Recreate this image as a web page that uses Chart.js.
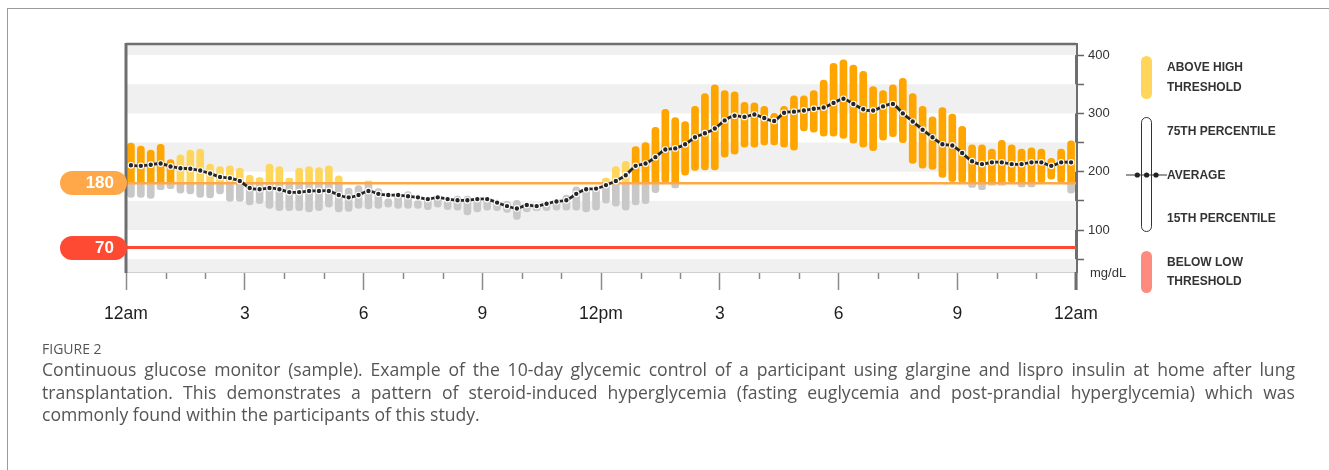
<!DOCTYPE html>
<html>
<head>
<meta charset="utf-8">
<script src="https://cdn.jsdelivr.net/npm/chart.js@4.4.1/dist/chart.umd.min.js"></script>
<style>
  html, body { margin:0; padding:0; background:#fff; }
  body { width:1329px; height:470px; overflow:hidden; position:relative; font-family:"Liberation Sans", Arial, sans-serif; }
  #frame { position:absolute; left:7px; top:8px; width:1340px; height:480px; border-left:1px solid #9a9a9a; border-top:1px solid #9a9a9a; }
  #wrap { position:absolute; left:0; top:0; width:1329px; height:330px; }
  canvas { display:block; }
  .pill { position:absolute; left:60px; width:67px; height:24px; border-radius:12px; color:#fff; font-weight:bold; font-size:17px; line-height:24px; text-align:right; box-sizing:border-box; padding-right:13px; }
  .lg { position:absolute; left:1167px; font-weight:bold; font-size:12px; color:#333; line-height:14px; white-space:nowrap; }
  .sw { position:absolute; left:1141px; width:11px; border-radius:6px; box-sizing:border-box; }
  #unit { position:absolute; left:1090px; top:265px; font-size:13px; color:#333; line-height:16px; }
  #figlab { position:absolute; left:42px; top:340px; font-family:"Open Sans", sans-serif; font-size:14px; color:#555; line-height:18px; }
  #cap { position:absolute; left:42px; top:358px; width:1253px; font-family:"Open Sans", sans-serif; font-size:17.6px; color:#555; line-height:22.5px; }
  #cap span { display:block; white-space:nowrap; text-align:justify; text-align-last:justify; }
  #cap span.last { text-align-last:left; }
</style>
</head>
<body>
<div id="frame"></div>
<div id="wrap"><canvas id="c" width="1329" height="330" style="width:1329px;height:330px"></canvas></div>
<div class="pill" id="pillHigh" style="background:#FFA84A">180</div>
<div class="pill" id="pillLow" style="background:#FF4A33">70</div>
<div id="unit">mg/dL</div>

<div class="sw" style="top:56px;height:43px;background:#FFD55C"></div>
<div class="lg" style="top:60px">ABOVE HIGH</div>
<div class="lg" style="top:80px">THRESHOLD</div>
<div class="sw" style="top:117px;height:115px;border:1.6px solid #333;background:#fff"></div>
<svg style="position:absolute;left:1124px;top:168px" width="44" height="14">
  <line x1="2" y1="7" x2="43" y2="7" stroke="#333" stroke-width="1.2"/>
  <circle cx="13.3" cy="7" r="2.6" fill="#222"/>
  <circle cx="22.6" cy="7" r="2.6" fill="#222"/>
  <circle cx="32" cy="7" r="2.6" fill="#222"/>
</svg>
<div class="lg" style="top:124px">75TH PERCENTILE</div>
<div class="lg" style="top:168px">AVERAGE</div>
<div class="lg" style="top:211px">15TH PERCENTILE</div>
<div class="sw" style="top:251px;height:42px;background:#FF8A80"></div>
<div class="lg" style="top:255px">BELOW LOW</div>
<div class="lg" style="top:274px">THRESHOLD</div>

<div id="figlab">FIGURE 2</div>
<div id="cap">
<span>Continuous glucose monitor (sample). Example of the 10-day glycemic control of a participant using glargine and lispro insulin at home after lung</span>
<span>transplantation. This demonstrates a pattern of steroid-induced hyperglycemia (fasting euglycemia and post-prandial hyperglycemia) which was</span>
<span class="last">commonly found within the participants of this study.</span>
</div>

<script>
// ---- data (15-minute slots over 24 h) ----
const hourLabels = ['12am','3','6','9','12pm','3','6','9','12am'];
const yTickLabels = [100, 200, 300, 400];
const highThreshold = 180;
const lowThreshold = 70;

const p15 = [156,156,154,169,171,163,162,156,155,162,149,149,143,145,137,133,133,133,131,133,139,131,132,137,
             136,137,139,137,137,137,135,139,135,134,126,131,134,133,130,118,131,133,133,134,134,134,131,134,
             146,141,134,143,145,164,181,172,194,202,203,203,225,230,242,242,246,246,242,237,270,268,261,261,
             257,249,242,236,254,260,250,214,206,204,190,183,181,173,169,177,177,181,174,174,181,187,181,163];

const p75 = [249,244,237,247,221,229,237,239,213,209,210,206,194,190,213,209,189,206,209,207,210,193,172,176,
             184,171,154,160,166,151,157,160,151,158,158,157,154,149,149,151,146,141,149,149,160,174,171,171,
             189,209,218,243,250,276,307,293,286,312,334,349,339,337,319,318,312,300,312,330,330,339,357,386,
             392,383,372,346,339,349,360,334,312,294,310,299,278,246,246,239,254,246,239,241,239,223,239,253];

const average = [211,210,212,214,209,206,205,202,197,191,189,184,172,170,172,170,165,165,167,167,167,160,156,160,
                 167,162,160,160,158,156,153,156,153,151,151,153,153,147,141,137,143,141,145,149,151,162,170,171,
                 177,184,194,210,214,225,238,240,247,259,266,274,288,296,294,298,292,287,301,303,305,308,310,318,
                 325,316,307,305,312,316,300,286,272,259,247,245,232,218,213,216,216,213,213,216,216,210,216,216];

// tone of the part above the high threshold: 'strong' or 'mild'
const highTone = ['strong','strong','strong','strong','strong','mild','mild','mild','mild','mild','mild','mild',
                  'mild','mild','mild','mild','mild','mild','mild','mild','mild','mild','mild','mild',
                  'mild','mild','mild','mild','mild','mild','mild','mild','mild','mild','mild','mild',
                  'mild','mild','mild','mild','mild','mild','mild','mild','mild','mild','mild','mild',
                  'mild','mild','mild','strong','strong','strong','strong','strong','strong','strong','strong','strong',
                  'strong','strong','strong','strong','strong','strong','strong','strong','strong','strong','strong','strong',
                  'strong','strong','strong','strong','strong','strong','strong','strong','strong','strong','strong','strong',
                  'strong','strong','strong','strong','strong','strong','strong','strong','strong','strong','strong','strong'];

const slotTime = p15.map((_, i) => (i + 0.5) / 4); // hours

// ---- chart ----
const COL_STRONG = '#FFA500', COL_MILD = '#FFD65C', COL_GRAY = '#C8C8C8';
const R = 4;

const grayPart = p15.map((lo, i) => ({ x: slotTime[i], y: lo < highThreshold ? [lo, Math.min(p75[i], highThreshold)] : null }));
const highPart = p75.map((hi, i) => ({ x: slotTime[i], y: hi > highThreshold ? [Math.max(p15[i], highThreshold), hi] : null }));
const avgLine = average.map((v, i) => ({ x: slotTime[i], y: v }));

const decor = {
  id: 'decor',
  beforeDatasetsDraw(chart) {
    const { ctx, chartArea: a, scales: { y } } = chart;
    ctx.save();
    ctx.fillStyle = '#F0F0F0';
    for (let v = 0; v <= 400; v += 100) {
      const t = Math.max(a.top, y.getPixelForValue(v + 50));
      const b = Math.min(a.bottom, y.getPixelForValue(v));
      if (b > t) ctx.fillRect(a.left, t, a.right - a.left, b - t);
    }
    ctx.restore();
  },
  beforeDatasetDraw(chart, args) {
    if (args.meta.type !== 'line') return;
    const { ctx, chartArea: a, scales: { y } } = chart;
    ctx.save();
    ctx.lineWidth = 2.5; ctx.strokeStyle = '#FFA846';
    let py = y.getPixelForValue(highThreshold);
    ctx.beginPath(); ctx.moveTo(a.left, py); ctx.lineTo(a.right, py); ctx.stroke();
    ctx.lineWidth = 3; ctx.strokeStyle = '#FF4A33';
    py = y.getPixelForValue(lowThreshold);
    ctx.beginPath(); ctx.moveTo(a.left, py); ctx.lineTo(a.right, py); ctx.stroke();
    ctx.restore();
  },
  afterDraw(chart) {
    const { ctx, chartArea: a, scales: { x } } = chart;
    ctx.save();
    // minor hourly ticks
    ctx.strokeStyle = '#8a8a8a'; ctx.lineWidth = 1.5;
    for (let h = 0; h <= 24; h++) {
      if (h % 3 === 0) continue;
      const px = Math.round(x.getPixelForValue(h)) + 0.5;
      ctx.beginPath(); ctx.moveTo(px, a.bottom + 1); ctx.lineTo(px, a.bottom + 7); ctx.stroke();
    }
    // frame: top & left
    ctx.strokeStyle = '#6e6e6e';
    ctx.lineWidth = 2.5;
    ctx.beginPath(); ctx.moveTo(a.left, a.top); ctx.lineTo(a.right, a.top); ctx.stroke();
    ctx.lineWidth = 3;
    ctx.beginPath(); ctx.moveTo(a.left, a.top - 1); ctx.lineTo(a.left, a.bottom + 1); ctx.stroke();
    // right axis line extension
    ctx.beginPath(); ctx.moveTo(a.right, a.bottom); ctx.lineTo(a.right, a.bottom + 18); ctx.stroke();
    ctx.restore();
  },
  afterRender(chart) {
    const y = chart.scales.y;
    document.getElementById('pillHigh').style.top = (y.getPixelForValue(highThreshold) - 12) + 'px';
    document.getElementById('pillLow').style.top = (y.getPixelForValue(lowThreshold) - 12) + 'px';
  }
};

new Chart(document.getElementById('c'), {
  data: {
    datasets: [
      {
        type: 'line', data: avgLine, order: 0,
        borderColor: '#262626', borderWidth: 2.8, tension: 0.3,
        pointRadius: 2.8, pointBackgroundColor: '#262626', pointBorderColor: '#ffffff', pointBorderWidth: 1.2
      },
      {
        type: 'bar', data: highPart, order: 1, grouped: false,
        backgroundColor: highTone.map(t => t === 'strong' ? COL_STRONG : COL_MILD),
        barThickness: 7, borderSkipped: false,
        borderRadius: ctx => p15[ctx.dataIndex] < highThreshold ? { topLeft: R, topRight: R, bottomLeft: 0, bottomRight: 0 } : R
      },
      {
        type: 'bar', data: grayPart, order: 2, grouped: false,
        backgroundColor: COL_GRAY,
        barThickness: 7, borderSkipped: false,
        borderRadius: ctx => p75[ctx.dataIndex] > highThreshold ? { topLeft: 0, topRight: 0, bottomLeft: R, bottomRight: R } : R
      }
    ]
  },
  options: {
    responsive: false, devicePixelRatio: 1, animation: false, events: [],
    layout: { padding: { left: 126, top: 44, right: 193, bottom: 0 } },
    plugins: { legend: { display: false }, tooltip: { enabled: false } },
    scales: {
      x: {
        type: 'linear', min: 0, max: 24, position: 'bottom', offset: false,
        afterFit: s => { s.height = 58; },
        ticks: {
          stepSize: 1, autoSkip: false, maxRotation: 0, padding: 14, color: '#1e1e1e',
          font: { size: 17.5, family: '"Liberation Sans", Arial, sans-serif' },
          callback: v => (v % 3 === 0 ? hourLabels[v / 3] : '')
        },
        grid: {
          offset: false, drawOnChartArea: false, drawTicks: true, tickLength: 18, tickWidth: 1.5,
          tickColor: c => (c.tick && c.tick.value % 3 === 0 ? '#8a8a8a' : 'rgba(0,0,0,0)')
        },
        border: { display: true, color: '#cfcfcf', width: 2 }
      },
      y: {
        type: 'linear', position: 'right', min: 28, max: 419,
        afterFit: s => { s.width = 60; },
        ticks: {
          stepSize: 50, includeBounds: false, padding: 4, color: '#333',
          font: { size: 13, family: '"Liberation Sans", Arial, sans-serif' },
          callback: v => (yTickLabels.includes(v) ? String(v) : '')
        },
        grid: { drawOnChartArea: false, tickLength: 8, tickWidth: 1.5, tickColor: '#666' },
        border: { display: true, color: '#6e6e6e', width: 3 }
      }
    }
  },
  plugins: [decor]
});
</script>
</body>
</html>
